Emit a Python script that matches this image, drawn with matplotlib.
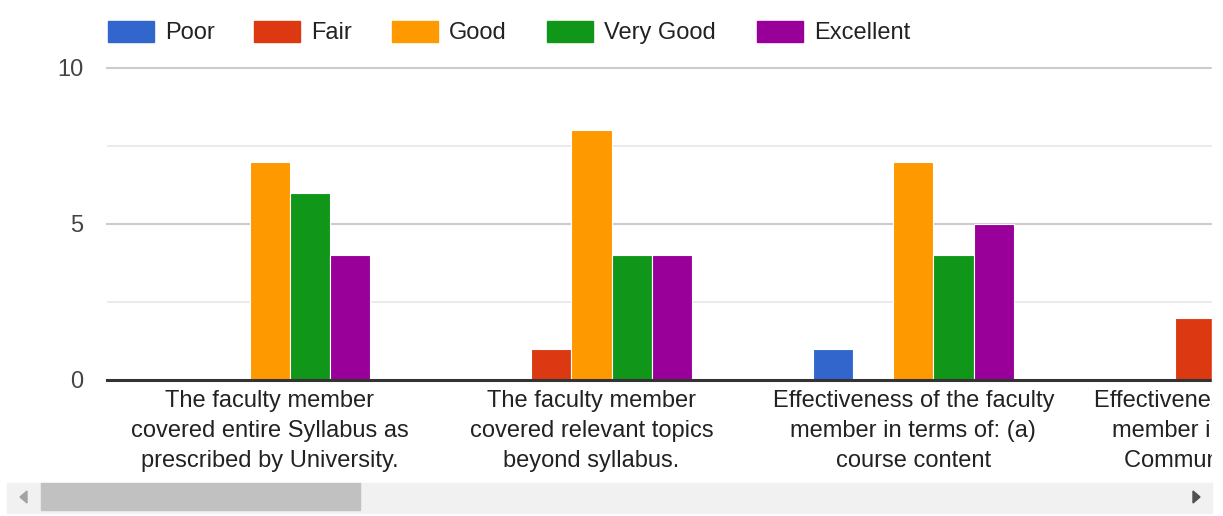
import numpy as np
import matplotlib
matplotlib.use("Agg")
import matplotlib.pyplot as plt
from matplotlib.patches import Rectangle, Polygon

plt.rcParams['font.family'] = ['Liberation Sans', 'DejaVu Sans']

categories = [
    "The faculty member\ncovered entire Syllabus as\nprescribed by University.",
    "The faculty member\ncovered relevant topics\nbeyond syllabus.",
    "Effectiveness of the faculty\nmember in terms of: (a)\ncourse content",
    "Effectiveness of the faculty\nmember in terms of: (b)\nCommunication skills",
]
series_names = ["Poor", "Fair", "Good", "Very Good", "Excellent"]
poor      = [0, 0, 1, 0]
fair      = [0, 1, 0, 2]
good      = [7, 8, 7, np.nan]
very_good = [6, 4, 4, np.nan]
excellent = [4, 4, 5, np.nan]
series_values = [poor, fair, good, very_good, excellent]
colors = ["#3366cc", "#dc3912", "#ff9900", "#109618", "#990099"]
y_ticks = [0, 5, 10]

W, H = 1223, 516
fig = plt.figure(figsize=(W / 100, H / 100), dpi=100)
fig.patch.set_facecolor("white")

def fx(px):
    return px / W

def fy(py):
    return 1 - py / H

ax_l, ax_r, ax_t, ax_b = 107, 1212, 68, 380
ax = fig.add_axes([fx(ax_l), fy(ax_b), (ax_r - ax_l) / W, (ax_b - ax_t) / H])

x = np.arange(len(categories))
bw = 0.125
for i, (vals, c) in enumerate(zip(series_values, colors)):
    ax.bar(x + (i - 2) * bw, vals, width=bw, color=c, edgecolor="white",
           linewidth=0.8, zorder=3)

# gridlines
for v in [2.5, 7.5]:
    ax.axhline(v, color="#ebebeb", linewidth=1.5, zorder=1)
for v in [5, 10]:
    ax.axhline(v, color="#cccccc", linewidth=1.5, zorder=1, clip_on=False)
ax.axhline(0, color="#333333", linewidth=2.2, zorder=4, clip_on=False)

for s in ax.spines.values():
    s.set_visible(False)

ax.set_yticks(y_ticks)
ax.set_yticklabels([str(t) for t in y_ticks], fontsize=17, color="#444444")
ax.tick_params(axis="y", length=0, pad=17)
ax.set_xticks([])

ax.set_ylim(0, 10)
ax.set_xlim(-0.506, 2.928)

# category labels (drawn as text so the partly visible one is kept)
for xi, lab in zip(x, categories):
    ax.annotate(lab, xy=(xi, 0), xycoords=("data", "axes fraction"),
                xytext=(0, -7.5), textcoords="offset points",
                ha="center", va="top", fontsize=17, color="#222222",
                linespacing=1.45, annotation_clip=False)

# legend (manual to match layout)
leg_x = [108, 254, 392, 547, 757]
for name, c, lx in zip(series_names, colors, leg_x):
    fig.patches.append(Rectangle((fx(lx), fy(42)), 46 / W, 21 / H,
                                 transform=fig.transFigure, color=c, zorder=5))
    fig.text(fx(lx + 57), fy(33), name, fontsize=17, color="#222222",
             va="center", ha="left", zorder=6)

# white mask on right edge (clipping)
fig.patches.append(Rectangle((fx(1212), 0), 1 - fx(1212), 1,
                             transform=fig.transFigure, color="white", zorder=10))

# scrollbar
fig.patches.append(Rectangle((fx(7), fy(513)), (1212 - 7) / W, 30 / H,
                             transform=fig.transFigure, color="#f1f1f1", zorder=11))
fig.patches.append(Rectangle((fx(41), fy(510)), (360 - 41) / W, 27 / H,
                             transform=fig.transFigure, color="#c1c1c1", zorder=12))
fig.patches.append(Polygon([(fx(20), fy(497)), (fx(27), fy(491)), (fx(27), fy(503))],
                           closed=True, transform=fig.transFigure,
                           color="#a3a3a3", zorder=12))
fig.patches.append(Polygon([(fx(1200), fy(497)), (fx(1193), fy(491)), (fx(1193), fy(503))],
                           closed=True, transform=fig.transFigure,
                           color="#505050", zorder=12))

fig.savefig("out.png", dpi=100, facecolor="white")
